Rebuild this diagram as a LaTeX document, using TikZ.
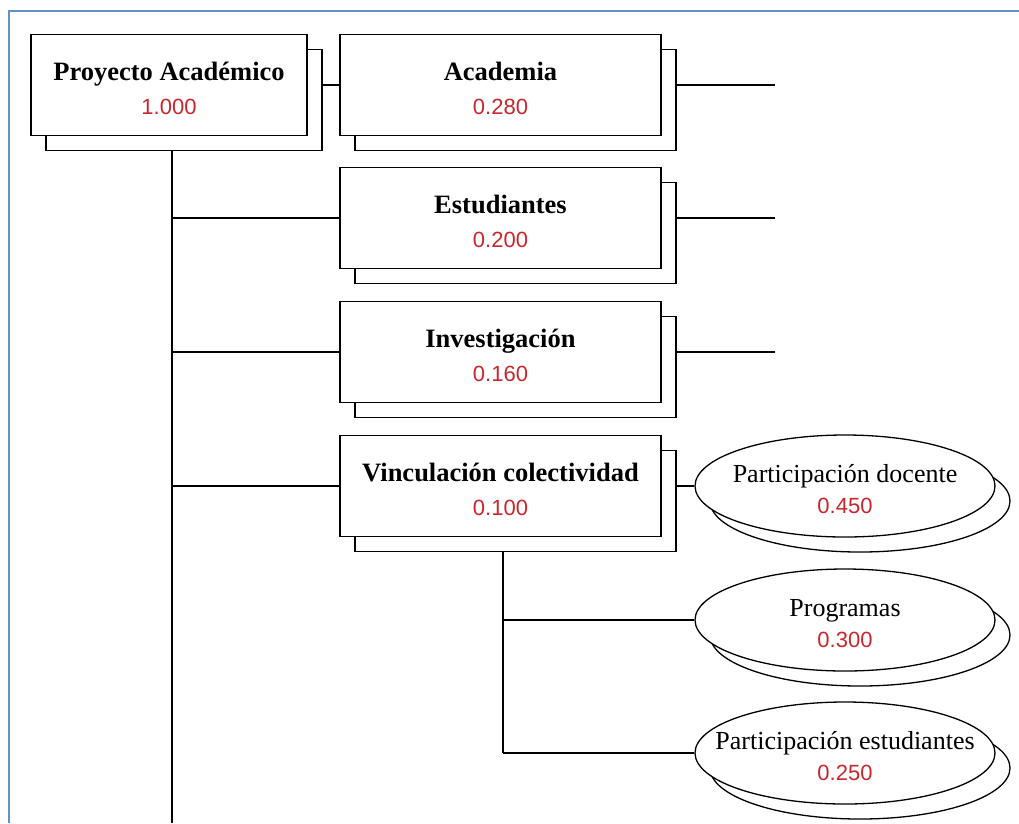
\documentclass[tikz,border=0pt]{standalone}
\usepackage{fontspec}
\setmainfont{Liberation Serif}
\newfontfamily\valfont{Liberation Sans}
\usetikzlibrary{shadows,shapes.geometric}
\definecolor{valred}{RGB}{200,40,45}
\definecolor{frameblue}{RGB}{100,145,205}
\newcommand{\boxtxt}[2]{\raisebox{-6pt}[\height][\depth]{\begin{tabular}{@{}c@{}}{\bfseries #1}\\[4pt]{\valfont\fontsize{22}{26}\selectfont\color{valred}#2}\end{tabular}}}
\newcommand{\elltxt}[2]{\makebox[0pt]{\raisebox{-6pt}[\height][\depth]{\begin{tabular}{@{}c@{}}#1\\[2pt]{\valfont\fontsize{22}{26}\selectfont\color{valred}#2}\end{tabular}}}}
\begin{document}
\begin{tikzpicture}[x=1pt,y=-1pt,
  line width=1.3pt,
  shadowed/.style={copy shadow={shadow xshift=15pt, shadow yshift=-15pt, draw=black, fill=white}},
  stepbox/.style={draw=black, fill=white, rectangle, minimum width=321pt, minimum height=101pt,
    inner sep=0pt, font=\fontsize{26.5}{30}\selectfont, shadowed},
  ellbox/.style={draw=black, fill=white, ellipse, minimum width=300pt, minimum height=102pt,
    inner sep=0pt, font=\fontsize{26}{29}\selectfont, shadowed},
  conn/.style={draw=black, line width=1.3pt}
]
\useasboundingbox (0,0) rectangle (1019,823);
\draw[frameblue, line width=2pt] (9,823) -- (9,11) -- (1019,11);

\node[stepbox, minimum width=276pt] (P) at (169,85) {\boxtxt{Proyecto Académico}{1.000}};
\node[stepbox] (A) at (500.5,85) {\boxtxt{Academia}{0.280}};
\node[stepbox] (E) at (500.5,218) {\boxtxt{Estudiantes}{0.200}};
\node[stepbox] (I) at (500.5,352) {\boxtxt{Investigación}{0.160}};
\node[stepbox] (V) at (500.5,486) {\boxtxt{Vinculación colectividad}{0.100}};

\node[ellbox] (D) at (845,486) {\elltxt{Participación docente}{0.450}};
\node[ellbox] (Pg) at (845,620) {\elltxt{Programas}{0.300}};
\node[ellbox] (PE) at (845,753) {\elltxt{Participación estudiantes}{0.250}};

\coordinate (trunkEnd) at (172,823);
\coordinate (aEnd) at (775,85);
\coordinate (eEnd) at (775,218);
\coordinate (iEnd) at (775,352);
\coordinate (vtrunk) at (503,753);

\draw[conn] ([xshift=3pt,yshift=-15pt]P.south) -- (trunkEnd);
\draw[conn] ([xshift=15pt]P.east) -- (A.west);
\draw[conn] (E.west -| trunkEnd) -- (E.west);
\draw[conn] (I.west -| trunkEnd) -- (I.west);
\draw[conn] (V.west -| trunkEnd) -- (V.west);

\draw[conn] ([xshift=15pt]A.east) -- (aEnd);
\draw[conn] ([xshift=15pt]E.east) -- (eEnd);
\draw[conn] ([xshift=15pt]I.east) -- (iEnd);

\draw[conn] ([xshift=15pt]V.east) -- (D.west);
\draw[conn] ([xshift=2.5pt,yshift=-15pt]V.south) -- (vtrunk |- PE.west);
\draw[conn] (vtrunk |- Pg.west) -- (Pg.west);
\draw[conn] (vtrunk |- PE.west) -- (PE.west);
\end{tikzpicture}
\end{document}
